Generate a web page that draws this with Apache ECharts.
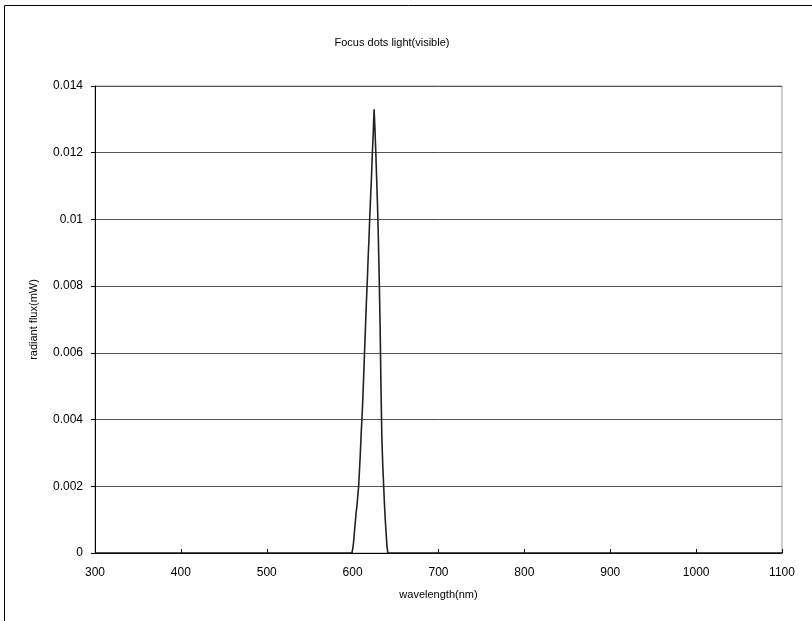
<!DOCTYPE html>
<html>
<head>
<meta charset="utf-8">
<script src="https://cdn.jsdelivr.net/npm/echarts@6/dist/echarts.min.js"></script>
<style>
html, body { margin: 0; padding: 0; background: #fff; }
#showcase { width: 812px; height: 621px; }
</style>
</head>
<body>
<div id="showcase"></div>
<script>
// 波长 (nm)
var wavelength = [300, 599, 600, 601, 602, 603, 604, 605, 606, 607, 608, 609, 610,
    611, 612, 613, 614, 615, 616, 617, 618, 619, 620, 621, 622, 623, 624, 625,
    626, 627, 628, 629, 630, 631, 632, 633, 634, 635, 636, 637, 638, 639, 640, 641, 1100];
// 辐射通量 (mW)
var flux = [0, 0, 0.0001, 0.0003, 0.0006, 0.0009, 0.0012, 0.0014, 0.0017, 0.0020, 0.0025, 0.0030, 0.0036,
    0.0041, 0.0047, 0.0054, 0.0061, 0.0068, 0.0075, 0.0081, 0.0088, 0.0094, 0.0101, 0.0107, 0.0113, 0.0120, 0.0126, 0.0133,
    0.0127, 0.0120, 0.0112, 0.0104, 0.0094, 0.0082, 0.0068, 0.0050, 0.0035, 0.0027, 0.0021, 0.0015, 0.0010, 0.0006, 0.0002, 0, 0];

var points = [];
for (var i = 0; i < wavelength.length; i++) {
    points.push([wavelength[i], flux[i]]);
}

var font = "'Liberation Sans', Arial, sans-serif";
var myChart = echarts.init(document.getElementById("showcase"));
var options = {
    animation: false,
    backgroundColor: "#fff",
    title: {
        text: "Focus dots light(visible)",
        left: 387,
        textAlign: "center",
        top: 32,
        textStyle: {color: "#000", fontSize: 11, fontWeight: "normal", fontFamily: font}
    },
    graphic: [{
        type: "rect",
        shape: {x: 4.5, y: 5.5, width: 840, height: 660},
        style: {fill: "none", stroke: "#000", lineWidth: 1},
        silent: true
    }],
    grid: {
        left: 95, right: 30, top: 86, bottom: 68,
        show: true,
        borderColor: "#999",
        borderWidth: 1
    },
    xAxis: {
        type: "value",
        min: 300,
        max: 1100,
        interval: 100,
        name: "wavelength(nm)",
        nameLocation: "middle",
        nameGap: 36,
        nameTextStyle: {color: "#000", fontSize: 11, fontFamily: font},
        axisLine: {onZero: false, lineStyle: {color: "#000", width: 1}},
        axisTick: {inside: true, length: 4, lineStyle: {color: "#000"}},
        axisLabel: {
            color: "#000", fontSize: 12, fontFamily: font, margin: 14,
            formatter: function (v) { return String(v); }
        },
        splitLine: {show: false}
    },
    yAxis: {
        type: "value",
        min: 0,
        max: 0.014,
        interval: 0.002,
        name: "radiant flux(mW)",
        nameLocation: "middle",
        nameGap: 56,
        nameTextStyle: {color: "#000", fontSize: 11, fontFamily: font},
        axisLine: {show: true, lineStyle: {color: "#000", width: 1}},
        axisTick: {show: true, length: 4, lineStyle: {color: "#000"}},
        axisLabel: {
            color: "#000", fontSize: 12, fontFamily: font, margin: 12,
            formatter: function (v) {
                if (v === 0) return "0";
                return String(+v.toFixed(3));
            }
        },
        splitLine: {show: true, lineStyle: {color: "#555", width: 1}}
    },
    series: [{
        name: "flux",
        type: "line",
        data: points,
        symbol: "none",
        smooth: false,
        lineStyle: {color: "#222", width: 1.6}
    }]
};
myChart.setOption(options);
</script>
</body>
</html>
